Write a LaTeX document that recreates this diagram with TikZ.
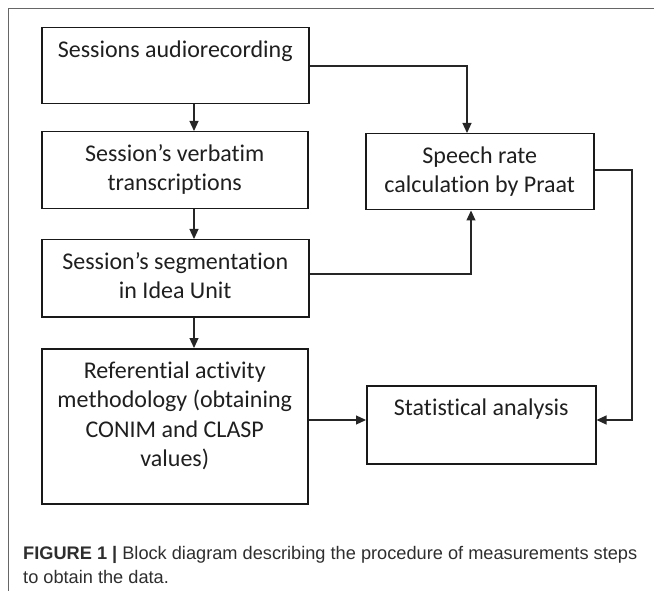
\documentclass[tikz,border=0pt]{standalone}
\usepackage{fontspec}
\setmainfont{Carlito}[Ligatures=NoCommon]
\newfontfamily\capfont{Liberation Sans}
\usetikzlibrary{arrows.meta}
\newcommand\tstrut{\rule{0pt}{18pt}}
\newcommand\cstrut{\rule{0pt}{15pt}}
\begin{document}
\begin{tikzpicture}[x=1pt,y=-1pt,
  box/.style={draw=black!90, line width=1.5pt, anchor=north west, inner sep=0pt},
  lab/.style={anchor=north, yshift=-12pt, align=center, inner sep=0pt,
    text=black!88, font=\fontsize{24pt}{29.5pt}\selectfont},
  conn/.style={draw=black!85, line width=1.2pt, -{Triangle[length=10pt,width=9pt]}},
  frame/.style={draw=black!60, line width=1pt}]
\useasboundingbox (0,0) rectangle (654,591);
\draw[frame] (8,591) -- (8,9) -- (654,9);
\node[box, minimum width=267pt, minimum height=76pt,
  label={[lab]north:\tstrut Sessions audiorecording}] (b1) at (41,27) {};
\node[box, minimum width=266pt, minimum height=77pt,
  label={[lab]north:\tstrut Session’s verbatim\\transcriptions}] (b2) at (41,131) {};
\node[box, minimum width=267pt, minimum height=77pt,
  label={[lab]north:\tstrut Session’s segmentation\\in Idea Unit}] (b3) at (41,239) {};
\node[box, minimum width=266pt, minimum height=155pt,
  label={[lab]north:\tstrut Referential activity\\methodology (obtaining\\CONIM and CLASP\\values)}] (b4) at (41,348) {};
\node[box, minimum width=228pt, minimum height=76pt,
  label={[lab]north:\tstrut Speech rate\\calculation by Praat}] (b5) at (365,133) {};
\node[box, minimum width=229pt, minimum height=78pt,
  label={[lab]north:\tstrut Statistical analysis}] (b6) at (366,385) {};
\coordinate (ax) at (194,0);
\coordinate (c1) at (467,66);
\coordinate (c2) at (471,274);
\coordinate (c3) at (0,420);
\coordinate (c4) at (632,170);
\draw[conn] (b1.south -| ax) -- (b2.north -| ax);
\draw[conn] (b2.south -| ax) -- (b3.north -| ax);
\draw[conn] (b3.south -| ax) -- (b4.north -| ax);
\draw[conn] (b1.east |- c1) -| (b5.north -| c1);
\draw[conn] (b3.east |- c2) -| (b5.south -| c2);
\draw[conn] (b4.east |- c3) -- (b6.west |- c3);
\draw[conn] (b5.east |- c4) -- (c4) -- (c4 |- c3) -- (b6.east |- c3);
\node[anchor=north west, align=left, inner sep=0pt, text=black!82,
  font=\capfont\fontsize{18.2pt}{24pt}\selectfont] (cap) at (23,544)
  {\cstrut\textbf{FIGURE 1 |} Block diagram describing the procedure of measurements steps\\to obtain the data.};
\end{tikzpicture}
\end{document}
